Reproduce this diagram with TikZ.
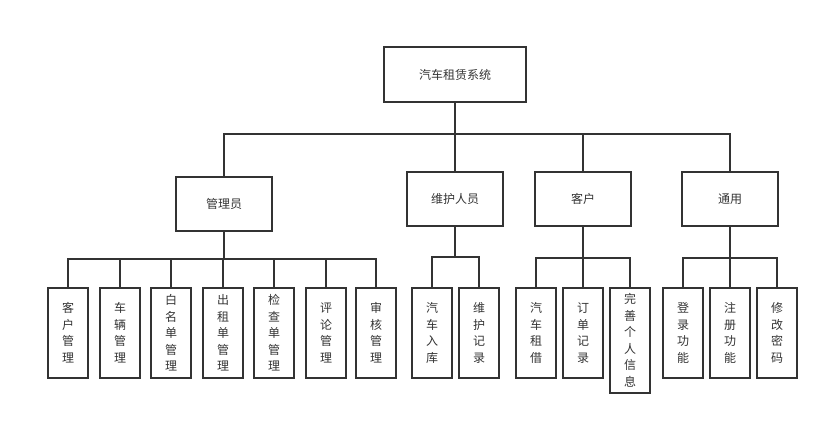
\documentclass[tikz,border=0pt]{standalone}
\usepackage{fontspec}
\usepackage{tikz}
\newfontfamily\cjk{Noto Sans CJK SC}
\definecolor{ink}{HTML}{333333}

\begin{document}
\begin{tikzpicture}[x=1pt, y=-1pt, line width=1.8pt, color=ink,
  main/.style = {draw, rectangle, minimum width=96pt, minimum height=54pt, font=\cjk\fontsize{12}{14}\selectfont},
  leaf/.style = {draw, rectangle, anchor=north, minimum width=40pt, minimum height=90pt, inner sep=0pt, align=center, font=\cjk\fontsize{12}{16.5}\selectfont}]
\useasboundingbox (0,0) rectangle (829,424);
\node[main, minimum width=142pt, minimum height=55pt] (1) at (455,74.5) {汽车租赁系统};
\node[main] (2) at (224,204) {管理员};
\node[main] (3) at (455,199) {维护人员};
\node[main] (4) at (583,199) {客户};
\node[main] (5) at (730,199) {通用};
\draw (1.south) -- ++(0,31) -| (2.north);
\draw (1.south) -- (3.north);
\draw (1.south) -- ++(0,31) -| (4.north);
\draw (1.south) -- ++(0,31) -| (5.north);
% 管理员
\node[leaf] (21) at (68,287) {客\\户\\管\\理};
\node[leaf] (22) at (120,287) {车\\辆\\管\\理};
\node[leaf] (23) at (171,287) {白\\名\\单\\管\\理};
\node[leaf] (24) at (223,287) {出\\租\\单\\管\\理};
\node[leaf] (25) at (274,287) {检\\查\\单\\管\\理};
\node[leaf] (26) at (326,287) {评\\论\\管\\理};
\node[leaf] (27) at (376,287) {审\\核\\管\\理};
\draw (2.south) -- ++(0,27) -| (21.north);
\draw (2.south) -- ++(0,27) -| (22.north);
\draw (2.south) -- ++(0,27) -| (23.north);
\draw (2.south) -- ++(0,27) -| (24.north);
\draw (2.south) -- ++(0,27) -| (25.north);
\draw (2.south) -- ++(0,27) -| (26.north);
\draw (2.south) -- ++(0,27) -| (27.north);
% 维护人员
\node[leaf] (31) at (432,287) {汽\\车\\入\\库};
\node[leaf] (32) at (479,287) {维\\护\\记\\录};
\draw (3.south) -- ++(0,30) -| (31.north);
\draw (3.south) -- ++(0,30) -| (32.north);
% 客户
\node[leaf] (41) at (536,287) {汽\\车\\租\\借};
\node[leaf] (42) at (583,287) {订\\单\\记\\录};
\node[leaf, minimum height=105pt] (43) at (630,287) {完\\善\\个\\人\\信\\息};
\draw (4.south) -- ++(0,31) -| (41.north);
\draw (4.south) -- (42.north);
\draw (4.south) -- ++(0,31) -| (43.north);
% 通用
\node[leaf] (51) at (683,287) {登\\录\\功\\能};
\node[leaf] (52) at (730,287) {注\\册\\功\\能};
\node[leaf] (53) at (777,287) {修\\改\\密\\码};
\draw (5.south) -- ++(0,31) -| (51.north);
\draw (5.south) -- (52.north);
\draw (5.south) -- ++(0,31) -| (53.north);
\end{tikzpicture}
\end{document}
